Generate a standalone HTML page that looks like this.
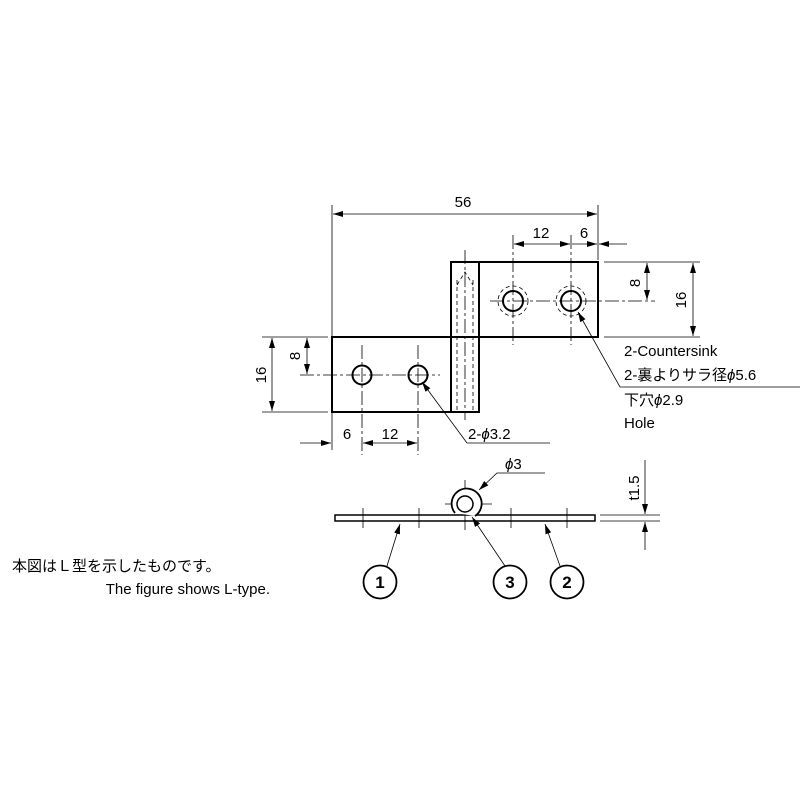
<!DOCTYPE html><html><head><meta charset="utf-8"><style>body{margin:0;background:#fff}svg{display:block}text{font-family:"Liberation Sans","Noto Sans CJK JP",sans-serif;fill:#000}</style></head><body>
<svg width="800" height="800" viewBox="0 0 800 800" xmlns="http://www.w3.org/2000/svg">
<defs><marker id="a" viewBox="0 0 10 6" refX="10" refY="3" markerWidth="10" markerHeight="6" orient="auto-start-reverse" markerUnits="userSpaceOnUse"><path d="M0,0L10,3L0,6z" fill="#000"/></marker></defs>
<g fill="none" stroke="#000">
<rect x="332" y="337" width="119" height="75" stroke-width="2"/>
<rect x="451" y="262" width="28" height="150" stroke-width="2"/>
<rect x="479" y="262" width="119" height="75" stroke-width="2"/>
<line x1="451" y1="337" x2="479" y2="337" stroke-width="2"/>
<g stroke-dasharray="4,3" stroke-width="0.8"><line x1="457" y1="280" x2="457" y2="412"/><line x1="473" y1="280" x2="473" y2="412"/><path d="M457,285 L465,272 L473,285"/>
<circle cx="513" cy="301" r="15"/><circle cx="571" cy="301" r="15"/></g>
<g stroke-width="2"><circle cx="362" cy="375" r="9.5"/><circle cx="418" cy="375" r="9.5"/><circle cx="513" cy="301" r="10"/><circle cx="571" cy="301" r="10"/></g>
<g stroke-width="0.8" stroke-dasharray="14,3,3,3">
<line x1="362" y1="345" x2="362" y2="455"/><line x1="418" y1="345" x2="418" y2="455"/><line x1="300" y1="375" x2="440" y2="375"/>
<line x1="513" y1="235" x2="513" y2="345"/><line x1="571" y1="235" x2="571" y2="345"/><line x1="490" y1="301" x2="655" y2="301"/>
<line x1="465" y1="250" x2="465" y2="420"/></g>
<g stroke-width="0.8">
<line x1="332" y1="205" x2="332" y2="450"/><line x1="598" y1="205" x2="598" y2="260"/>
<line x1="333" y1="214" x2="597" y2="214" marker-start="url(#a)" marker-end="url(#a)"/>
<line x1="514" y1="244" x2="570" y2="244" marker-start="url(#a)" marker-end="url(#a)"/>
<line x1="572" y1="244" x2="597" y2="244" marker-end="url(#a)"/>
<line x1="627" y1="244" x2="599" y2="244" marker-end="url(#a)"/>
<line x1="604" y1="262" x2="700" y2="262"/><line x1="604" y1="337" x2="700" y2="337"/>
<line x1="647" y1="263" x2="647" y2="300" marker-start="url(#a)" marker-end="url(#a)"/>
<line x1="693" y1="263" x2="693" y2="336" marker-start="url(#a)" marker-end="url(#a)"/>
<line x1="262" y1="337" x2="328" y2="337"/><line x1="262" y1="412" x2="328" y2="412"/>
<line x1="272" y1="338" x2="272" y2="411" marker-start="url(#a)" marker-end="url(#a)"/>
<line x1="307" y1="338" x2="307" y2="374" marker-start="url(#a)" marker-end="url(#a)"/>
<line x1="300" y1="443" x2="331" y2="443" marker-end="url(#a)"/>
<line x1="363" y1="443" x2="417" y2="443" marker-start="url(#a)" marker-end="url(#a)"/>
<polyline points="467,443 550,443"/><line x1="467" y1="443" x2="422" y2="382" marker-end="url(#a)"/>
<polyline points="800,387 620,387 578,312" marker-end="url(#a)"/>
<rect x="335" y="515" width="260" height="6" stroke-width="1.5"/>
<line x1="363" y1="508" x2="363" y2="528"/><line x1="419" y1="508" x2="419" y2="528"/><line x1="511" y1="508" x2="511" y2="528"/><line x1="567" y1="508" x2="567" y2="528"/>
<line x1="465" y1="480" x2="465" y2="530"/><line x1="445" y1="504" x2="492" y2="504"/>
<polyline points="545,473 497,473 479,490" marker-end="url(#a)"/>
<line x1="600" y1="515" x2="660" y2="515"/><line x1="600" y1="521" x2="660" y2="521"/>
<line x1="645" y1="460" x2="645" y2="514" marker-end="url(#a)"/><line x1="645" y1="550" x2="645" y2="522" marker-end="url(#a)"/>
<line x1="387" y1="566" x2="400" y2="524" marker-end="url(#a)"/>
<line x1="505" y1="566" x2="472" y2="517" marker-end="url(#a)"/>
<line x1="560" y1="566" x2="545" y2="524" marker-end="url(#a)"/>
</g>
<path d="M455,513 A15,15 0 1 1 475,516" stroke="#000" stroke-width="1.8" fill="#fff"/>
<circle cx="465" cy="504" r="8" stroke="#000" stroke-width="1.5" fill="none"/>
<g stroke="#000" stroke-width="1.8" fill="#fff"><circle cx="380" cy="582" r="16.5"/><circle cx="510" cy="582" r="16.5"/><circle cx="567" cy="582" r="16.5"/></g>
</g>
<g font-size="15">
<text x="463" y="207" text-anchor="middle">56</text>
<text x="541" y="238" text-anchor="middle">12</text><text x="584" y="238" text-anchor="middle">6</text>
<text transform="translate(640,283) rotate(-90)" text-anchor="middle">8</text>
<text transform="translate(686,300) rotate(-90)" text-anchor="middle">16</text>
<text transform="translate(266,375) rotate(-90)" text-anchor="middle">16</text>
<text transform="translate(300,356) rotate(-90)" text-anchor="middle">8</text>
<text x="347" y="439" text-anchor="middle">6</text><text x="390" y="439" text-anchor="middle">12</text>
<text x="468" y="439">2-<tspan font-style="italic">ϕ</tspan>3.2</text>
<text x="624" y="356">2-Countersink</text>
<text x="624" y="380">2-裏よりサラ径<tspan font-style="italic">ϕ</tspan>5.6</text>
<text x="624" y="405">下穴<tspan font-style="italic">ϕ</tspan>2.9</text>
<text x="624" y="428">Hole</text>
<text x="505" y="469"><tspan font-style="italic">ϕ</tspan>3</text>
<text transform="translate(639,488) rotate(-90)" text-anchor="middle">t1.5</text>
<g font-size="17" font-weight="bold" text-anchor="middle"><text x="380" y="588">1</text><text x="510" y="588">3</text><text x="567" y="588">2</text></g>
<text x="12" y="571">本図はＬ型を示したものです。</text>
<text x="270" y="594" text-anchor="end">The figure shows L-type.</text>
</g>
</svg></body></html>
